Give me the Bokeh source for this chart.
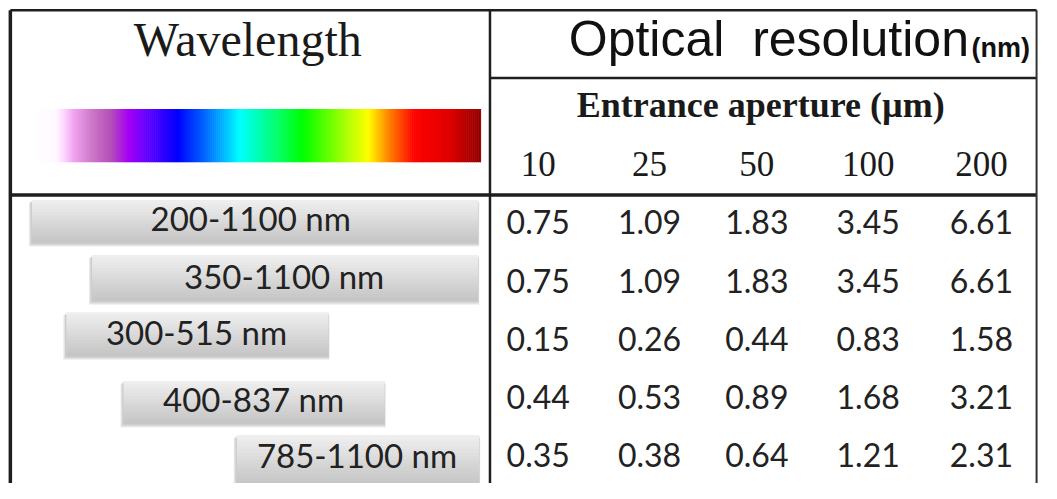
from bokeh.plotting import figure
from bokeh.models import Range1d, ColumnDataSource
from bokeh.core.properties import value
from bokeh.embed import file_html
from bokeh.resources import INLINE

# ---------------- data ----------------
wavelength_ranges = ["200-1100 nm", "350-1100 nm", "300-515 nm", "400-837 nm", "785-1100 nm"]
apertures = ["10", "25", "50", "100", "200"]
res_ap10 = ["0.75", "0.75", "0.15", "0.44", "0.35"]
res_ap25 = ["1.09", "1.09", "0.26", "0.53", "0.38"]
res_ap50 = ["1.83", "1.83", "0.44", "0.89", "0.64"]
res_ap100 = ["3.45", "3.45", "0.83", "1.68", "1.21"]
res_ap200 = ["6.61", "6.61", "1.58", "3.21", "2.31"]
columns = [res_ap10, res_ap25, res_ap50, res_ap100, res_ap200]

# ---------------- layout (reference pixel space) ----------------
col_x = [546, 659, 768, 881, 996]
row_base = [242, 303, 363, 423, 483]
label_base = [238, 298, 356, 425, 483]
label_x = [254, 288, 199, 257, 362]
box_l = [32, 93, 67, 125, 240]
box_r = [485, 485, 333, 390, 486]
box_t = [206, 263, 322, 393, 449]
box_b = [250, 310, 367, 437, 500]

W, H = 1041, 483
YS = 499.0 / H  # data units per screen pixel (vertical)


def base(y, fs):
    # compensate for the renderer placing the alphabetic baseline ~0.4em low
    return y - 0.4 * fs * YS


p = figure(width=W, height=H, x_range=Range1d(0, 1057), y_range=Range1d(499, 0),
           output_backend="svg", toolbar_location=None, min_border=0)
p.axis.visible = False
p.grid.visible = False
p.outline_line_color = None
p.background_fill_color = "white"
p.border_fill_color = "white"

# ---- spectrum bar (decorative gradient) ----
stops = [(33, (255, 255, 255)), (57, (255, 248, 255)), (64, (255, 215, 255)), (75, (240, 160, 240)),
         (92, (205, 120, 200)), (112, (180, 80, 185)), (130, (165, 0, 245)), (150, (95, 0, 255)),
         (180, (0, 0, 255)), (212, (0, 120, 255)), (243, (0, 255, 255)), (275, (0, 255, 128)),
         (307, (0, 255, 0)), (340, (128, 255, 0)), (373, (255, 255, 0)), (395, (255, 128, 0)),
         (420, (255, 0, 0)), (455, (225, 0, 0)), (488, (145, 0, 0))]
xs0, xs1, cols = [], [], []
step = 2
x = 33
while x < 488:
    xm = x + step / 2
    for i in range(len(stops) - 1):
        a, ca = stops[i]
        b, cb = stops[i + 1]
        if a <= xm <= b:
            t = (xm - a) / (b - a)
            c = tuple(int(round(ca[k] + (cb[k] - ca[k]) * t)) for k in range(3))
            break
    xs0.append(x)
    xs1.append(min(x + step + 0.6, 488))
    cols.append("#%02x%02x%02x" % c)
    x += step
p.quad(left=xs0, right=xs1, top=[112] * len(xs0), bottom=[167] * len(xs0),
       fill_color=cols, line_color=None)

# ---- gray gradient buttons ----
nstrip = 14
for i in range(5):
    p.quad(left=box_l[i] - 3, right=box_r[i] + 1, top=box_t[i] + 3, bottom=box_b[i] + 4,
           fill_color="#c8c8c8", fill_alpha=0.5, line_color=None)
    p.quad(left=box_l[i] - 1.5, right=box_r[i] + 0.5, top=box_t[i] + 1.5, bottom=box_b[i] + 2,
           fill_color="#b8b8b8", fill_alpha=0.5, line_color=None)
    h = (box_b[i] - box_t[i]) / nstrip
    L, R, T, B, C = [], [], [], [], []
    for s in range(nstrip):
        g = int(round(238 - (238 - 198) * s / (nstrip - 1)))
        L.append(box_l[i]); R.append(box_r[i])
        T.append(box_t[i] + s * h); B.append(box_t[i] + (s + 1) * h + 0.5)
        C.append("#%02x%02x%02x" % (g, g, g))
    p.quad(left=L, right=R, top=T, bottom=B, fill_color=C, line_color=None)

# ---- grid lines of the table ----
dark = "#1e1e1e"
p.segment(x0=[10, 497], y0=[10, 80], x1=[1052, 1052], y1=[10, 80], line_color=dark, line_width=2.5)
p.segment(x0=[10], y0=[201], x1=[1052], y1=[201], line_color=dark, line_width=3.5)
p.segment(x0=[10, 497, 1052], y0=[10, 10, 10], x1=[10, 497, 1052], y1=[500, 500, 500],
          line_color=[dark, dark, "#333333"], line_width=[3.5, 2.5, 2])

# ---- header texts ----
p.text(x=[251], y=[base(60, 48)], text=["Wavelength"], text_font=value("Liberation Serif"),
       text_font_size="48px", text_align="center", text_baseline="alphabetic", text_color="#1a1a1a")
p.text(x=[577], y=[base(60, 50)], text=["Optical\u00a0\u00a0resolution"], text_font=value("Liberation Sans"),
       text_font_size="50px", text_align="left", text_baseline="alphabetic", text_color="#111111")
p.text(x=[986], y=[base(60, 27)], text=["(nm)"], text_font=value("Liberation Sans"), text_font_style="bold",
       text_font_size="27px", text_align="left", text_baseline="alphabetic", text_color="#111111")
p.text(x=[772], y=[base(123, 36)], text=["Entrance aperture (\u00b5m)"], text_font=value("Liberation Serif"),
       text_font_style="bold", text_font_size="36px", text_align="center", text_baseline="alphabetic",
       text_color="#1a1a1a")
p.text(x=col_x, y=[base(183, 35)] * 5, text=apertures, text_font=value("Liberation Serif"),
       text_font_size="35px", text_align="center", text_baseline="alphabetic", text_color="#1a1a1a")

# ---- row labels ----
p.text(x=label_x, y=[base(b, 33) for b in label_base], text=wavelength_ranges, text_font=value("Lato"),
       text_font_size="33px", text_align="center", text_baseline="alphabetic", text_color="#222222")

# ---- values ----
vx, vy, vt = [], [], []
for c, colvals in enumerate(columns):
    for r, v in enumerate(colvals):
        vx.append(col_x[c]); vy.append(base(row_base[r], 32)); vt.append(v)
src = ColumnDataSource(dict(x=vx, y=vy, t=vt))
p.text(x="x", y="y", text="t", source=src, text_font=value("Lato"), text_font_size="32px",
       text_align="center", text_baseline="alphabetic", text_color="#222222")

open("out.html", "w").write(file_html(p, INLINE))
